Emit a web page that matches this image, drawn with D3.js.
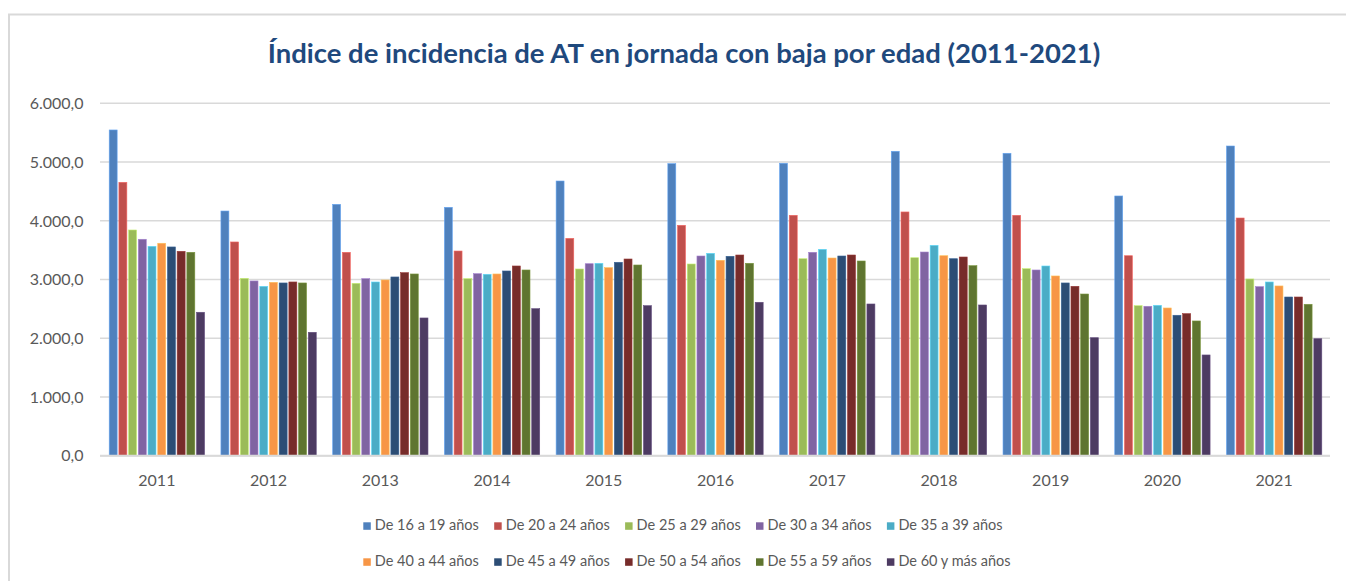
<!DOCTYPE html>
<html>
<head>
<meta charset="utf-8">
<script src="https://cdn.jsdelivr.net/npm/d3@7"></script>
<style>
  html, body { margin: 0; padding: 0; background: #fff; }
  svg { display: block; font-family: Lato, "Open Sans", sans-serif; }
</style>
</head>
<body>
<svg id="chart" width="1346" height="581"></svg>
<script>
// values (2011 -> 2021)
const years = ["2011","2012","2013","2014","2015","2016","2017","2018","2019","2020","2021"];
const ageGroups = ["De 16 a 19 años","De 20 a 24 años","De 25 a 29 años","De 30 a 34 años","De 35 a 39 años",
                   "De 40 a 44 años","De 45 a 49 años","De 50 a 54 años","De 55 a 59 años","De 60 y más años"];
const colors = ["#4F81BD","#C0504D","#9BBB59","#8064A2","#4BACC6","#F79646","#2C4D75","#772C2A","#5F7530","#4D3B62"];

const age16_19 = [5546, 4166, 4280, 4229, 4677, 4972, 4979, 5183, 5149, 4422, 5273];
const age20_24 = [4655, 3639, 3463, 3485, 3701, 3923, 4093, 4150, 4093, 3405, 4047];
const age25_29 = [3843, 3020, 2935, 3014, 3179, 3264, 3354, 3371, 3184, 2554, 3009];
const age30_34 = [3685, 2975, 3014, 3099, 3269, 3400, 3463, 3468, 3162, 2544, 2878];
const age35_39 = [3565, 2884, 2958, 3089, 3276, 3446, 3514, 3582, 3230, 2561, 2958];
const age40_44 = [3617, 2952, 2992, 3094, 3201, 3327, 3366, 3405, 3060, 2515, 2890];
const age45_49 = [3554, 2941, 3043, 3145, 3293, 3395, 3400, 3354, 2941, 2391, 2702];
const age50_54 = [3480, 2958, 3116, 3230, 3349, 3417, 3417, 3383, 2884, 2418, 2702];
const age55_59 = [3463, 2941, 3094, 3162, 3247, 3276, 3315, 3235, 2753, 2294, 2578];
const age60_mas = [2442, 2101, 2345, 2503, 2554, 2612, 2583, 2566, 2009, 1715, 1992];
const yTicks = [0, 1000, 2000, 3000, 4000, 5000, 6000];

const seriesValues = [age16_19, age20_24, age25_29, age30_34, age35_39,
                      age40_44, age45_49, age50_54, age55_59, age60_mas];

document.addEventListener('DOMContentLoaded', function () {
    const svg = d3.select("#chart");
    const width = 1346;
    const plot = { left: 101, right: 1330, top: 103.3, bottom: 455.7 };

    // outer frame of the chart
    svg.append("rect")
        .attr("x", 9).attr("y", 14.5)
        .attr("width", 1400).attr("height", 600)
        .attr("fill", "none")
        .attr("stroke", "#D9D9D9")
        .attr("stroke-width", 2);

    // title
    const title = svg.append("text")
        .attr("x", 684).attr("y", 63)
        .attr("text-anchor", "middle")
        .attr("font-weight", "bold")
        .attr("font-size", 27)
        .attr("fill", "#1F497D")
        .text("Índice de incidencia de AT en jornada con baja por edad (2011-2021)");
    const tw = title.node().getComputedTextLength();
    if (tw > 0) title.attr("font-size", 27 * 833 / tw);

    const es = d3.formatLocale({ decimal: ",", thousands: ".", grouping: [3], currency: ["", "€"] });
    const fmt = es.format(",.1f");

    const yScale = d3.scaleLinear().domain([0, 6000]).range([plot.bottom, plot.top]);
    const x0 = d3.scaleBand().domain(years).range([plot.left, plot.right]).padding(0);
    const x1 = d3.scaleBand().domain(ageGroups)
        .range([8.2, x0.bandwidth() - 8.2])
        .paddingInner(0.18).paddingOuter(0);

    // gridlines
    svg.append("g")
        .selectAll("line")
        .data(yTicks)
        .join("line")
        .attr("x1", 100).attr("x2", plot.right)
        .attr("y1", d => yScale(d)).attr("y2", d => yScale(d))
        .attr("stroke", "#D9D9D9")
        .attr("stroke-width", 1.5);

    // y labels
    svg.append("g")
        .selectAll("text")
        .data(yTicks)
        .join("text")
        .attr("x", 83.5)
        .attr("y", d => yScale(d))
        .attr("dy", "0.36em")
        .attr("text-anchor", "end")
        .attr("font-size", 16)
        .attr("fill", "#595959")
        .text(d => fmt(d));

    // bars
    const groups = svg.append("g")
        .selectAll("g")
        .data(years)
        .join("g")
        .attr("transform", d => "translate(" + x0(d) + ",0)");

    groups.selectAll("rect")
        .data((yr, i) => ageGroups.map((a, k) => ({ age: a, k: k, v: seriesValues[k][i] })))
        .join("rect")
        .attr("x", d => x1(d.age))
        .attr("width", x1.bandwidth())
        .attr("y", d => yScale(d.v))
        .attr("height", d => yScale(0) - yScale(d.v))
        .attr("fill", d => colors[d.k])
        .attr("stroke", d => d3.color(colors[d.k]).brighter(0.7))
        .attr("stroke-width", 0.6);

    // baseline
    svg.append("line")
        .attr("x1", 100).attr("x2", plot.right)
        .attr("y1", yScale(0)).attr("y2", yScale(0))
        .attr("stroke", "#D9D9D9")
        .attr("stroke-width", 2);

    // x labels
    svg.append("g")
        .selectAll("text")
        .data(years)
        .join("text")
        .attr("x", d => x0(d) + x0.bandwidth() / 2)
        .attr("y", 486)
        .attr("text-anchor", "middle")
        .attr("font-size", 16)
        .attr("fill", "#595959")
        .text(d => d);

    // legend, two rows of five
    const legend = svg.append("g")
        .selectAll("g")
        .data(ageGroups)
        .join("g")
        .attr("transform", (d, i) => "translate(" + (363.3 + (i % 5) * 130.9) + "," + (522.3 + Math.floor(i / 5) * 36) + ")");
    legend.append("rect")
        .attr("width", 7.5).attr("height", 7.5)
        .attr("fill", (d, i) => colors[i]);
    legend.append("text")
        .attr("x", 11.5).attr("y", 8)
        .attr("font-size", 14.5)
        .attr("fill", "#595959")
        .text(d => d);
});
</script>
</body>
</html>
